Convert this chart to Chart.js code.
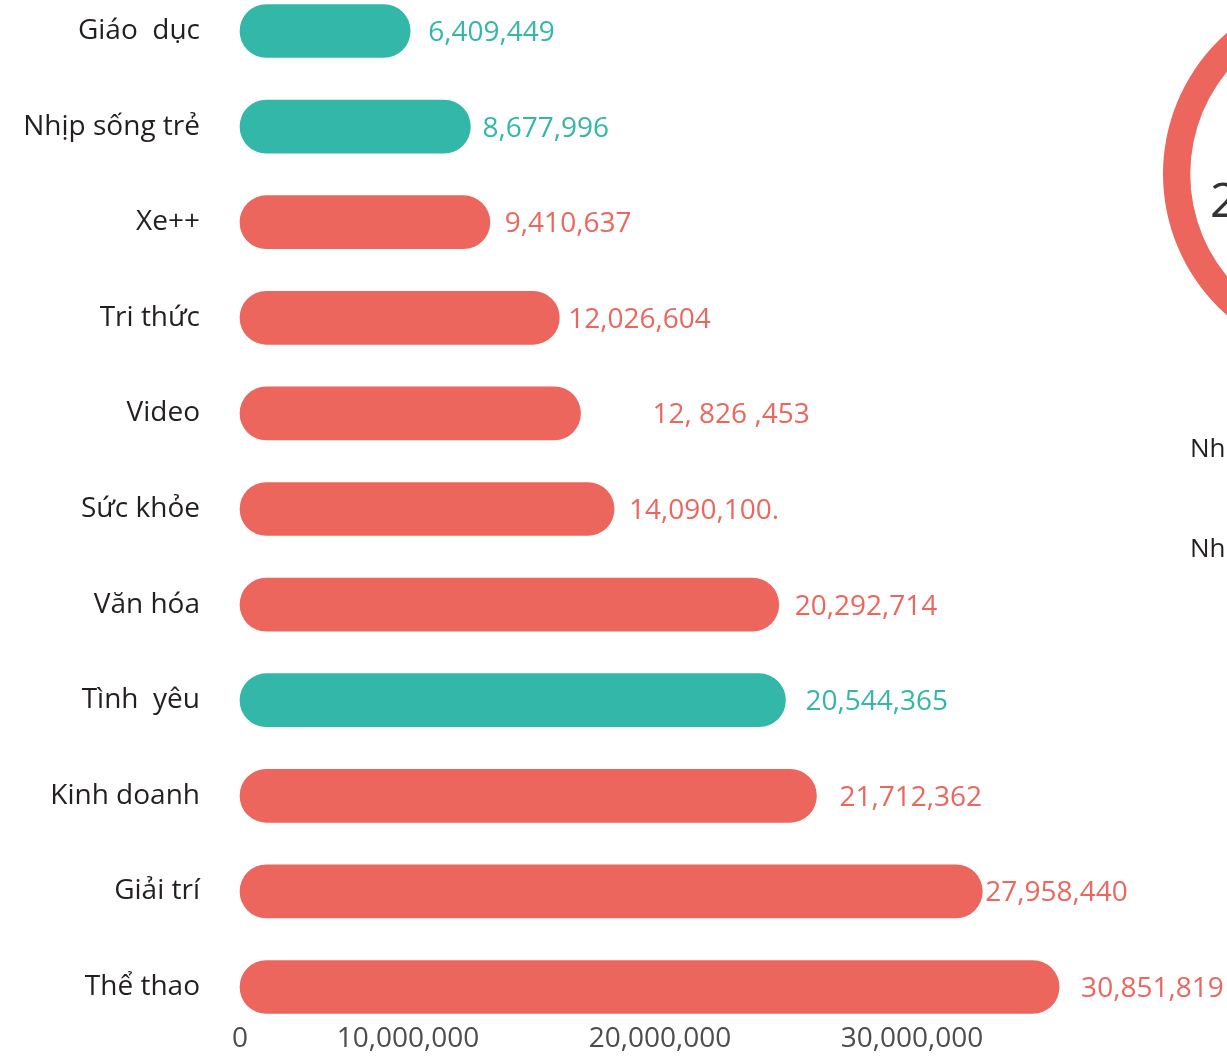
<!DOCTYPE html>
<html>
<head>
<meta charset="utf-8">
<script src="https://cdn.jsdelivr.net/npm/chart.js@4.4.1/dist/chart.umd.min.js"></script>
<style>
    html, body { margin: 0; padding: 0; background: #fff; overflow: hidden; }
    #page { position: relative; width: 1227px; height: 1058px; overflow: hidden; font-family: 'Open Sans', sans-serif; }
    #barChart { position: absolute; left: 0; top: 0; }
    #donutChart { position: absolute; left: 1161px; top: -16px; }
    .side-text { position: absolute; color: #231f20; line-height: 1; white-space: nowrap; }
</style>
</head>
<body>
<div id="page">
    <canvas id="barChart" width="1227" height="1058"></canvas>
    <canvas id="donutChart" width="380" height="380"></canvas>
    <div class="side-text" id="donutCenter" style="left:1210px; top:175px; font-size:48px; color:#333;"></div>
    <div class="side-text" id="legend1" style="left:1190px; top:434px; font-size:26px;"></div>
    <div class="side-text" id="legend2" style="left:1190px; top:534px; font-size:26px;"></div>
</div>
<script>
// data
const categories = ['Giáo  dục', 'Nhịp sống trẻ', 'Xe++', 'Tri thức', 'Video', 'Sức khỏe', 'Văn hóa', 'Tình  yêu', 'Kinh doanh', 'Giải trí', 'Thể thao'];
const views = [6409449, 8677996, 9410637, 12026604, 12826453, 14090100, 20292714, 20544365, 21712362, 27958440, 30851819];
const valueLabels = ['6,409,449', '8,677,996', '9,410,637', '12,026,604', '12, 826 ,453', '14,090,100.', '20,292,714', '20,544,365', '21,712,362', '27,958,440', '30,851,819'];
const isTeal = [true, true, false, false, false, false, false, true, false, false, false];
const tickLabels = ['0', '', '10,000,000', '', '', '20,000,000', '', '', '30,000,000', '', '', ''];
const donutValues = [100];
const donutCenterText = '2';
const legendTexts = ['Nh', 'Nh'];

const RED = '#ec665e';
const TEAL = '#33b7a8';
const labelGap = [18, 12, 15, 9, 72, 15, 16, 20, 23, 3, 22];

let barColors = isTeal.map(t => t ? TEAL : RED);

// value text at the end of each bar
const valueLabelPlugin = {
    id: 'valueLabels',
    afterDatasetsDraw(chart) {
        let ctx = chart.ctx;
        let meta = chart.getDatasetMeta(0);
        ctx.save();
        ctx.font = '28px "Open Sans"';
        ctx.textBaseline = 'middle';
        ctx.textAlign = 'left';
        meta.data.forEach((bar, i) => {
            ctx.fillStyle = barColors[i];
            ctx.fillText(valueLabels[i], bar.x + labelGap[i], bar.y + 2);
        });
        ctx.restore();
    }
};

new Chart(document.getElementById('barChart').getContext('2d'), {
    type: 'bar',
    data: {
        labels: categories,
        datasets: [{
            data: views,
            backgroundColor: barColors,
            barThickness: 53,
            borderRadius: 27,
            borderSkipped: false,
            clip: false,
            xAxisID: 'x',
            yAxisID: 'y'
        }]
    },
    options: {
        indexAxis: 'y',
        responsive: false,
        animation: false,
        devicePixelRatio: 1,
        layout: { padding: { top: 31, right: 63, bottom: 0, left: 0 } },
        plugins: { legend: { display: false }, tooltip: { enabled: false } },
        scales: {
            x: { display: false, min: 0, max: 34802000 },
            xt: {
                type: 'category',
                position: 'bottom',
                labels: tickLabels,
                offset: false,
                grid: { display: false, drawTicks: false },
                border: { display: false },
                ticks: {
                    autoSkip: false, maxRotation: 0, padding: 35,
                    color: '#4d4d4d', font: { family: 'Open Sans', size: 28 }
                },
                afterFit(scale) {
                    scale.height = 71;
                    scale.paddingLeft = 0;
                    scale.paddingRight = 0;
                }
            },
            y: {
                offset: false,
                grid: { display: false, drawTicks: false },
                border: { display: false },
                ticks: {
                    padding: 40,
                    color: '#231f20', font: { family: 'Open Sans', size: 28 }
                },
                afterFit(scale) {
                    scale.width = 240;
                    scale.paddingTop = 0;
                    scale.paddingBottom = 0;
                }
            }
        }
    },
    plugins: [valueLabelPlugin]
});

new Chart(document.getElementById('donutChart').getContext('2d'), {
    type: 'doughnut',
    data: {
        labels: ['total'],
        datasets: [{ data: donutValues, backgroundColor: [RED], borderWidth: 0 }]
    },
    options: {
        responsive: false,
        animation: false,
        devicePixelRatio: 1,
        cutout: '85.5%',
        layout: { padding: 2 },
        plugins: { legend: { display: false }, tooltip: { enabled: false } }
    }
});

document.getElementById('donutCenter').textContent = donutCenterText;
document.getElementById('legend1').textContent = legendTexts[0];
document.getElementById('legend2').textContent = legendTexts[1];
</script>
</body>
</html>
